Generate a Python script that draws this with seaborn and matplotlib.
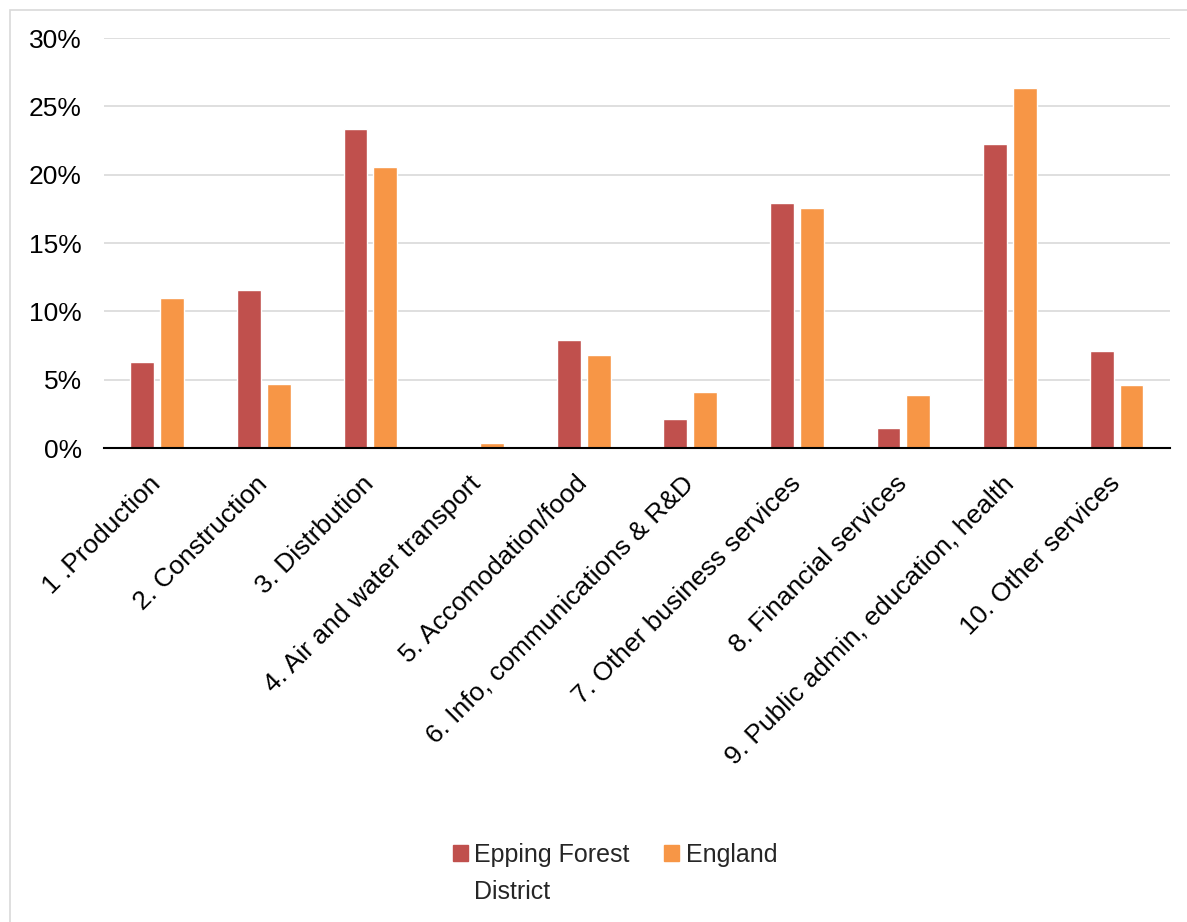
import numpy as np
import pandas as pd
import matplotlib
matplotlib.use("Agg")
import matplotlib.pyplot as plt
import seaborn as sns
from matplotlib.patches import Rectangle
from matplotlib.ticker import PercentFormatter, FixedLocator

# Employment share by broad industrial group
sectors = [
    "1 .Production",
    "2. Construction",
    "3. Distrbution",
    "4. Air and water transport",
    "5. Accomodation/food",
    "6. Info, communications & R&D",
    "7. Other business services",
    "8. Financial services",
    "9. Public admin, education, health",
    "10. Other services",
]
epping = [6.3, 11.55, 23.35, 0.05, 7.9, 2.1, 17.9, 1.5, 22.25, 7.1]
england = [11.0, 4.7, 20.55, 0.35, 6.8, 4.1, 17.6, 3.9, 26.35, 4.6]
series_names = ["Epping Forest District", "England"]
colours = ["#C0504D", "#F79646"]

df = pd.DataFrame({
    "sector": sectors * 2,
    "share": epping + england,
    "area": [series_names[0]] * len(sectors) + [series_names[1]] * len(sectors),
})

sns.set_theme(style="white")
plt.rcParams["font.family"] = ["Liberation Sans", "DejaVu Sans"]

fig = plt.figure(figsize=(11.87, 9.22), dpi=100)
ax = fig.add_axes([0.0876, 0.514, 0.898, 0.4447])

sns.barplot(data=df, x="sector", y="share", hue="area", order=sectors,
            hue_order=series_names, palette=colours, width=0.56, gap=0.2,
            saturation=1, ax=ax, legend=False)

ax.set_ylim(0, 30)
ax.set_xlim(-0.5, len(sectors) - 0.5)
ax.set_yticks(np.arange(0, 31, 5))
ax.yaxis.set_major_formatter(PercentFormatter(decimals=0))
ax.yaxis.grid(True, color="#D9D9D9", linewidth=1.2)
ax.set_axisbelow(True)
ax.tick_params(axis="y", length=0, labelsize=19, pad=16, colors="black")

for side in ["left", "right", "top"]:
    ax.spines[side].set_visible(False)
ax.spines["bottom"].set_color("black")
ax.spines["bottom"].set_linewidth(1.5)

# category labels rotated, boundary ticks between categories
ax.set_xticks(range(len(sectors)))
ax.set_xticklabels(sectors, rotation=45, ha="right", va="center",
                   rotation_mode="anchor", fontsize=19)
ax.tick_params(axis="x", length=0, pad=23, colors="black")
ax.xaxis.set_minor_locator(FixedLocator(np.arange(-0.5, len(sectors), 1.0)))
ax.tick_params(axis="x", which="minor", length=10, width=1.5, direction="inout",
               color="black")
ax.set_xlabel("")
ax.set_ylabel("")

# legend: first label wraps onto a second line, square stays with first line
handles = [Rectangle((0, 0), 1, 1, color=c) for c in colours]
leg = fig.legend(handles, ["Epping Forest", "England"], loc="center",
                 bbox_to_anchor=(0.518, 0.073), ncol=2, frameon=False,
                 fontsize=18, handlelength=0.6, handleheight=0.6,
                 handletextpad=0.25, columnspacing=1.4)
fig.canvas.draw()
bb = leg.get_texts()[0].get_window_extent().transformed(fig.transFigure.inverted())
fig.text(bb.x0, bb.y1 - 37 / 922, "District", fontsize=18, ha="left", va="top")

# outer chart border
fig.patches.append(Rectangle((10 / 1187, -0.01), 1.02, 1 - 10 / 922 + 0.01,
                             transform=fig.transFigure, fill=False,
                             edgecolor="#D9D9D9", linewidth=1.2))

fig.savefig("out.png", dpi=100)
